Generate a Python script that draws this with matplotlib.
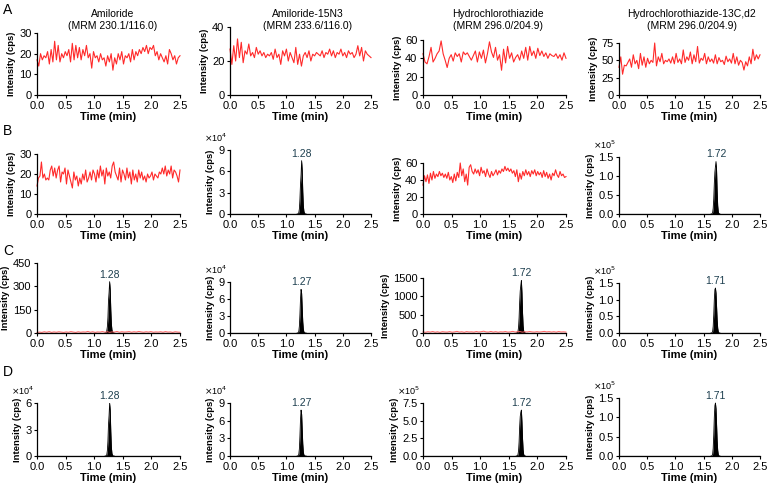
import numpy as np
import matplotlib.pyplot as plt

plt.rcParams['font.family'] = ['Liberation Sans', 'DejaVu Sans']

# ---- data ---------------------------------------------------------------
titles = ['Amiloride\n(MRM 230.1/116.0)', 'Amiloride-15N3\n(MRM 233.6/116.0)',
          'Hydrochlorothiazide\n(MRM 296.0/204.9)',
          'Hydrochlorothiazide-13C,d2\n(MRM 296.0/204.9)']
row_letters = ['A', 'B', 'C', 'D']

# blank noise traces (cps)
noise_a1 = [17, 14, 20, 17, 19, 18, 21, 15, 22, 16, 26, 17, 24, 16, 20, 18, 21, 19, 22, 16,
            25, 17, 24, 18, 23, 17, 22, 19, 24, 18, 20, 13, 21, 18, 19, 16, 20, 17, 18, 14,
            19, 16, 20, 12, 18, 15, 20, 17, 21, 15, 19, 18, 20, 16, 22, 17, 21, 19, 22, 20,
            23, 21, 24, 20, 23, 22, 24, 19, 21, 17, 20, 18, 16, 19, 15, 22, 20, 17, 19, 15,
            18, 19]
noise_a2 = [27, 18, 29, 20, 33, 22, 31, 19, 26, 24, 30, 23, 25, 22, 28, 24, 26, 23, 25, 22,
            24, 23, 25, 21, 27, 22, 24, 18, 26, 23, 27, 20, 25, 22, 19, 28, 18, 24, 17, 23,
            25, 22, 26, 20, 24, 23, 25, 24, 23, 26, 22, 25, 24, 27, 23, 26, 22, 25, 24, 27,
            23, 25, 22, 26, 24, 25, 22, 24, 29, 23, 28, 20, 26, 24, 23, 22]
noise_a3 = [45, 36, 34, 42, 52, 36, 40, 45, 48, 59, 45, 38, 30, 40, 44, 37, 46, 42, 45, 36,
            47, 44, 46, 42, 38, 43, 48, 36, 47, 40, 49, 35, 45, 58, 47, 41, 52, 38, 44, 27,
            50, 35, 53, 40, 46, 36, 41, 44, 38, 48, 40, 52, 38, 53, 43, 48, 40, 51, 43, 48,
            42, 46, 40, 45, 43, 42, 45, 40, 44, 38, 46, 40]
noise_a4 = [40, 55, 30, 43, 42, 47, 52, 40, 58, 45, 50, 38, 60, 43, 55, 40, 53, 45, 50, 47,
            75, 42, 55, 48, 60, 45, 50, 48, 52, 46, 55, 45, 60, 47, 52, 45, 65, 47, 55, 50,
            62, 45, 58, 48, 70, 46, 53, 50, 60, 45, 55, 48, 52, 46, 58, 45, 54, 48, 50, 44,
            56, 48, 52, 46, 60, 45, 55, 43, 50, 47, 36, 48, 42, 55, 45, 66, 50, 58, 52, 58]
noise_b1 = [14, 18, 19, 26, 18, 20, 17, 18, 17, 22, 24, 19, 23, 18, 22, 24, 16, 21, 20, 23,
            15, 22, 19, 16, 13, 21, 17, 19, 14, 18, 15, 20, 17, 22, 16, 18, 21, 17, 22, 20,
            16, 22, 18, 24, 19, 22, 15, 23, 19, 21, 18, 24, 26, 21, 19, 17, 23, 16, 22, 20,
            17, 23, 18, 21, 15, 22, 17, 20, 16, 22, 18, 21, 17, 19, 16, 20, 18, 19, 21, 17,
            20, 19, 18, 21, 20, 23, 20, 24, 19, 22, 20, 24, 18, 22, 21, 19, 16, 22]
noise_b3 = [34, 45, 38, 46, 36, 48, 40, 50, 42, 47, 44, 50, 45, 48, 43, 47, 42, 49, 40, 44,
            37, 47, 39, 49, 43, 60, 45, 53, 38, 47, 34, 55, 58, 50, 47, 53, 48, 52, 45, 55,
            48, 51, 44, 53, 47, 43, 50, 45, 48, 52, 46, 51, 48, 53, 50, 56, 51, 54, 50, 53,
            48, 51, 44, 52, 38, 48, 41, 50, 45, 52, 46, 50, 44, 51, 47, 52, 45, 50, 46, 49,
            43, 51, 44, 49, 42, 47, 40, 48, 45, 52, 46, 43, 50, 45, 47, 43, 44]
noise_c1 = [3, 6, 4, 8, 5, 9, 4, 7, 5, 8, 6, 4, 7, 5, 9, 6, 4, 8, 5, 7, 6, 10, 5, 8, 4,
            7, 6, 9, 5, 8, 4, 7, 6, 10, 5, 8, 6, 7, 9, 5, 8, 6, 10, 7, 5, 8, 6, 9, 5, 7,
            6, 8, 5, 9, 6, 7, 4, 8, 6, 5]
noise_c3 = [30, 20, 35, 25, 40, 22, 33, 18, 36, 28, 25, 38, 22, 30, 45, 26, 34, 20, 38, 28,
            32, 24, 40, 27, 35, 50, 30, 26, 42, 25, 36, 22, 33, 28, 40, 24, 30, 45, 26, 35,
            38, 22, 34, 28, 40, 30, 25, 36, 27, 33, 45, 30, 38, 26, 35, 24, 40, 28, 32, 25]

# peak traces: retention time and intensity (cps)
peak_t = [1.19, 1.21, 1.22, 1.23, 1.24, 1.25, 1.26, 1.27, 1.28, 1.29, 1.30, 1.31, 1.32, 1.33, 1.35]
peak_b2 = [0, 300, 2000, 7000, 21000, 42000, 55000, 75000, 62000, 32000, 12000, 4000, 1200, 300, 0]
peak_c1 = [0, 2, 15, 40, 100, 210, 260, 330, 280, 150, 60, 20, 8, 3, 0]
peak_c2 = [0, 400, 3000, 12000, 33000, 60000, 77000, 70000, 45000, 20000, 7000, 2000, 600, 100, 0]
peak_d1 = [0, 200, 1500, 6000, 17000, 36000, 46000, 60000, 52000, 28000, 10000, 3000, 900, 200, 0]
peak_d2 = [0, 400, 3000, 12000, 34000, 62000, 78000, 71000, 46000, 21000, 7000, 2000, 600, 100, 0]

peak_t2 = [1.63, 1.65, 1.66, 1.67, 1.68, 1.69, 1.70, 1.71, 1.72, 1.73, 1.74, 1.75, 1.76, 1.77, 1.79]
peak_b4 = [0, 500, 4000, 15000, 40000, 80000, 110000, 125000, 138000, 115000, 60000, 22000, 6000, 1500, 0]
peak_c3 = [0, 5, 40, 150, 420, 850, 1150, 1300, 1430, 1100, 560, 200, 60, 15, 0]
peak_c4 = [0, 600, 5000, 20000, 55000, 100000, 130000, 135000, 120000, 80000, 40000, 15000, 4000, 800, 0]
peak_d3 = [0, 2500, 20000, 70000, 200000, 420000, 560000, 620000, 650000, 480000, 250000, 90000, 25000, 5000, 0]
peak_d4 = [0, 600, 5000, 20000, 55000, 100000, 130000, 137000, 122000, 82000, 40000, 15000, 4000, 800, 0]

# ---- layout -------------------------------------------------------------
W, H = 768, 484
fig = plt.figure(figsize=(W / 100, H / 100), dpi=100)

col_x = [(37, 180), (230, 371), (423, 566), (619, 760)]
row_bottom = [95, 214, 333, 456]
tops = [[33, 27, 40, 43],
        [154, 150, 163, 157],
        [263, 282, 278, 283],
        [403, 403, 403, 398]]
# (ylim top, tick step, scale exponent)
yspec = [[(30, 10, 0), (40, 20, 0), (60, 20, 0), (75, 25, 0)],
         [(30, 10, 0), (9, 3, 4), (60, 20, 0), (1.5, 0.5, 5)],
         [(450, 150, 0), (9, 3, 4), (1500, 500, 0), (1.5, 0.5, 5)],
         [(6, 3, 4), (9, 3, 4), (7.5, 2.5, 5), (1.5, 0.5, 5)]]

RED = '#ff2a2a'


def make_ax(r, c):
    l, rr = col_x[c]
    t, b = tops[r][c], row_bottom[r]
    ax = fig.add_axes([l / W, 1 - b / H, (rr - l) / W, (b - t) / H])
    ymax, step, ex = yspec[r][c]
    ax.set_xlim(0, 2.5)
    ax.set_ylim(0, ymax)
    ax.set_xticks(np.arange(0, 2.51, 0.5))
    ax.set_xticklabels(['%.1f' % v for v in np.arange(0, 2.51, 0.5)])
    yt = np.arange(0, ymax + step / 2, step)
    ax.set_yticks(yt)
    if isinstance(step, float) and step % 1:
        ax.set_yticklabels(['%.1f' % v for v in yt])
    else:
        ax.set_yticklabels(['%d' % v for v in yt])
    for s in ['top', 'right']:
        ax.spines[s].set_visible(False)
    for s in ['left', 'bottom']:
        ax.spines[s].set_linewidth(0.9)
    ax.tick_params(labelsize=8, length=2.5, width=0.8, pad=1.5)
    ax.set_xlabel('Time (min)', fontsize=8, fontweight='bold', labelpad=1)
    ax.set_ylabel('Intensity (cps)', fontsize=6.8, fontweight='bold', labelpad=2)
    if ex:
        ax.annotate(r'$\times$10$^{%d}$' % ex, (0, 1), xycoords='axes fraction',
                    xytext=(-2, 4), textcoords='offset points',
                    fontsize=6.5, ha='right', va='bottom')
    return ax, ex


def draw_noise(ax, vals, lw=0.8, color=RED):
    x = np.linspace(0, 2.5, len(vals))
    ax.plot(x, vals, color=color, lw=lw, clip_on=False)


def draw_peak(ax, t, vals, ex, label):
    v = np.array(vals) / 10 ** ex
    ax.fill_between(t, 0, v, color='black', lw=0)
    ax.plot(t, v, color='black', lw=0.6)
    ax.plot([0, 2.5], [0, 0], color='black', lw=0.8)
    i = int(np.argmax(v))
    ax.annotate(label, (t[i], v[i]), xytext=(0, 1.5), textcoords='offset points',
                ha='center', va='bottom', fontsize=7.5, color='#1d3f4f')


panels = {}
for r in range(4):
    for c in range(4):
        panels[(r, c)] = make_ax(r, c)

draw_noise(panels[(0, 0)][0], noise_a1)
draw_noise(panels[(0, 1)][0], noise_a2)
draw_noise(panels[(0, 2)][0], noise_a3)
draw_noise(panels[(0, 3)][0], noise_a4)
draw_noise(panels[(1, 0)][0], noise_b1)
draw_noise(panels[(1, 2)][0], noise_b3)

ax, ex = panels[(1, 1)]
draw_peak(ax, peak_t, peak_b2, ex, '1.28')
ax, ex = panels[(1, 3)]
draw_peak(ax, peak_t2, peak_b4, ex, '1.72')

ax, ex = panels[(2, 0)]
draw_peak(ax, peak_t, peak_c1, ex, '1.28')
draw_noise(ax, noise_c1, lw=0.7, color='#ff6060')
ax, ex = panels[(2, 1)]
draw_peak(ax, peak_t, peak_c2, ex, '1.27')
ax, ex = panels[(2, 2)]
draw_peak(ax, peak_t2, peak_c3, ex, '1.72')
draw_noise(ax, noise_c3, lw=0.7, color='#ff6060')
ax, ex = panels[(2, 3)]
draw_peak(ax, peak_t2, peak_c4, ex, '1.71')

ax, ex = panels[(3, 0)]
draw_peak(ax, peak_t, peak_d1, ex, '1.28')
ax, ex = panels[(3, 1)]
draw_peak(ax, peak_t, peak_d2, ex, '1.27')
ax, ex = panels[(3, 2)]
draw_peak(ax, peak_t2, peak_d3, ex, '1.72')
ax, ex = panels[(3, 3)]
draw_peak(ax, peak_t2, peak_d4, ex, '1.71')

# column titles
title_x = [113, 308, 498, 692]
for tx, tt in zip(title_x, titles):
    fig.text(tx / W, 1 - 20 / H, tt, ha='center', va='center', fontsize=7.5,
             linespacing=1.15)

# row letters
letter_y = [10, 131, 251, 372]
for ly, lt in zip(letter_y, row_letters):
    fig.text(3 / W, 1 - ly / H, lt, ha='left', va='center', fontsize=10)

fig.savefig('out.png', dpi=100)
